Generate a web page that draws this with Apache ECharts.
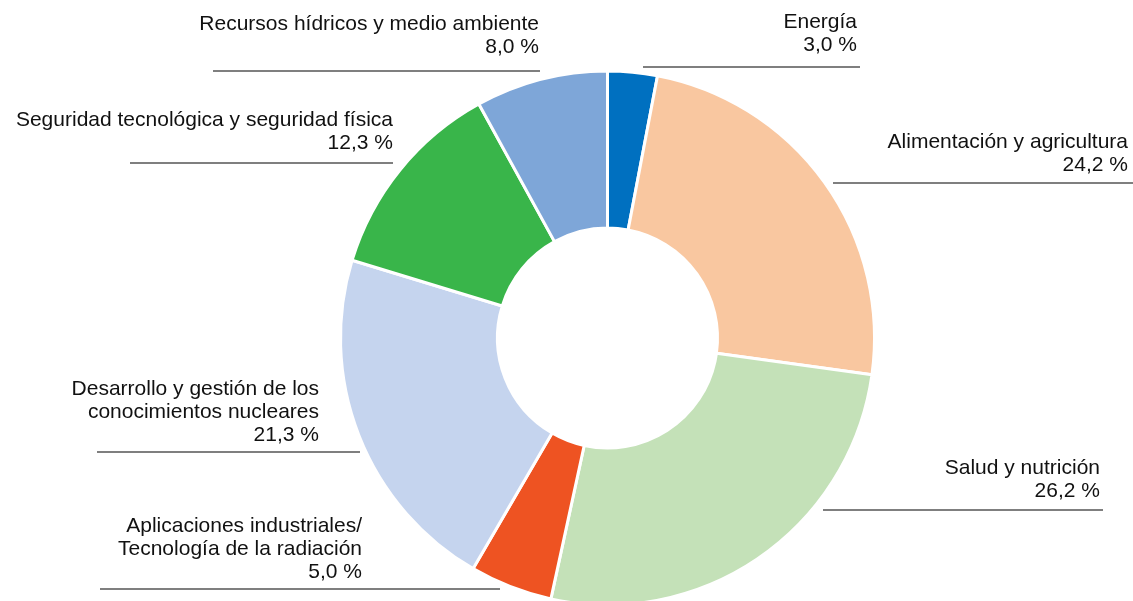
<!DOCTYPE html>
<html>
<head>
<meta charset="utf-8">
<script src="https://cdn.jsdelivr.net/npm/echarts@6/dist/echarts.min.js"></script>
<style>
  html, body { margin: 0; padding: 0; background: #fff; }
  #chart { width: 1133px; height: 601px; }
</style>
</head>
<body>
<div id="chart"></div>
<script>
// categorías y porcentajes (en el sentido de las agujas del reloj, desde arriba)
const categories = [
  "Energía",
  "Alimentación y agricultura",
  "Salud y nutrición",
  "Aplicaciones industriales/\nTecnología de la radiación",
  "Desarrollo y gestión de los\nconocimientos nucleares",
  "Seguridad tecnológica y seguridad física",
  "Recursos hídricos y medio ambiente"
];
const values = [3.0, 24.2, 26.2, 5.0, 21.3, 12.3, 8.0];
const colors = ["#0070c0", "#f9c7a0", "#c4e1b8", "#ee5322", "#c5d4ee", "#39b54a", "#7ea6d8"];

// posición de cada etiqueta: borde derecho del texto, borde superior, línea (x1, x2, y)
const labelPos = [
  { x: 857, y: 11, lx1: 643, lx2: 860, ly: 67 },
  { x: 1128, y: 131, lx1: 833, lx2: 1133, ly: 183 },
  { x: 1100, y: 457, lx1: 823, lx2: 1103, ly: 510 },
  { x: 362, y: 515, lx1: 100, lx2: 500, ly: 589 },
  { x: 319, y: 378, lx1: 97, lx2: 360, ly: 452 },
  { x: 393, y: 109, lx1: 130, lx2: 393, ly: 163 },
  { x: 539, y: 13, lx1: 213, lx2: 540, ly: 71 }
];

const fmt = v => v.toFixed(1).replace(".", ",") + " %";

let myChart = echarts.init(document.getElementById("chart"));
let option = {
  animation: false,
  series: [
    {
      type: "pie",
      center: [607.5, 338],
      radius: [110, 267],
      startAngle: 90,
      clockwise: true,
      avoidLabelOverlap: false,
      itemStyle: { borderColor: "#fff", borderWidth: 3 },
      label: {
        show: true,
        position: "outer",
        alignTo: "none",
        formatter: p => p.name + "\n" + fmt(p.value),
        fontFamily: "Liberation Sans, Arial, sans-serif",
        fontSize: 21,
        lineHeight: 23,
        color: "#111",
        align: "right"
      },
      labelLine: {
        show: true,
        lineStyle: { color: "#7f7f7f", width: 2 }
      },
      labelLayout: function (params) {
        const p = labelPos[params.dataIndex];
        return {
          x: p.x,
          y: p.y,
          align: "right",
          verticalAlign: "top",
          labelLinePoints: [[p.lx1, p.ly], [p.lx2, p.ly], [p.lx2, p.ly]]
        };
      },
      data: categories.map((c, i) => ({
        name: c,
        value: values[i],
        itemStyle: { color: colors[i] }
      }))
    }
  ]
};
myChart.setOption(option);
</script>
</body>
</html>
